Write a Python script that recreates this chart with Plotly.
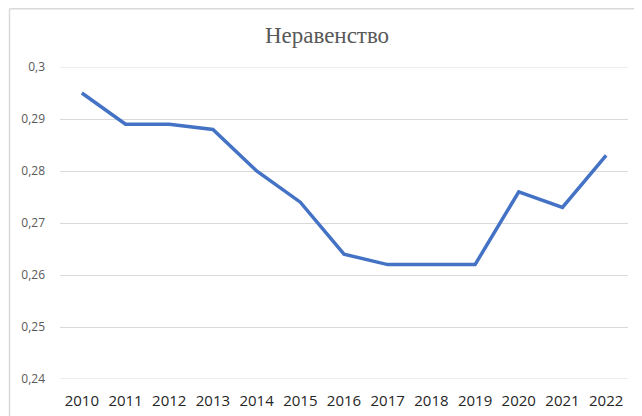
import plotly.graph_objects as go

years = ["2010", "2011", "2012", "2013", "2014", "2015", "2016",
         "2017", "2018", "2019", "2020", "2021", "2022"]
inequality = [0.295, 0.289, 0.289, 0.288, 0.280, 0.274, 0.264,
              0.262, 0.262, 0.262, 0.276, 0.273, 0.283]
y_tick_vals = [0.24, 0.25, 0.26, 0.27, 0.28, 0.29, 0.30]
y_tick_text = ["0,24", "0,25", "0,26", "0,27", "0,28", "0,29", "0,3"]
title_text = "Неравенство"

# page has an 8px body margin; figure coordinates = page coordinates - 8
OFF = 8
W, H = 642 - OFF, 416 - OFF
L, R, T, B = 60 - OFF, 14, 67 - OFF, 37
pw, ph = W - L - R, H - T - B

def px_x(p):
    return (p - L) / pw

def px_y(p):
    return (H - B - p) / ph

fig = go.Figure()
fig.add_trace(go.Scatter(
    x=years, y=inequality, mode="lines",
    line=dict(color="#4472C4", width=3.5),
    hoverinfo="x+y",
))

border = "#d9d9d9"
grid = "#d9d9d9"
shapes = [
    dict(type="line", xref="paper", yref="paper",
         x0=px_x(1.5), x1=px_x(1.5), y0=px_y(H + 2), y1=px_y(0.75),
         line=dict(color=border, width=1.5)),
    dict(type="line", xref="paper", yref="paper",
         x0=px_x(1.5), x1=px_x(W + 2), y0=px_y(0.75), y1=px_y(0.75),
         line=dict(color=border, width=1.5)),
]
# edge gridlines (plotly skips gridlines lying exactly on the plot edges)
for v in (y_tick_vals[0], y_tick_vals[-1]):
    shapes.append(dict(type="line", xref="paper", yref="y", layer="below",
                       x0=0, x1=1, y0=v, y1=v,
                       line=dict(color=grid, width=1)))

fig.update_layout(
    width=W, height=H,
    margin=dict(l=L, r=R, t=T, b=B),
    paper_bgcolor="white", plot_bgcolor="white",
    showlegend=False,
    title=dict(text=title_text, x=(327 - OFF) / W, xanchor="center",
               y=1 - (35 - OFF) / H, yanchor="middle",
               font=dict(family="Liberation Serif", size=23, color="#595959")),
    xaxis=dict(type="category", range=[-0.5, len(years) - 0.5],
               showgrid=False, showline=False, zeroline=False,
               ticks="", ticklabelstandoff=11, automargin=False,
               tickfont=dict(family="Open Sans", size=15, color="#262626")),
    yaxis=dict(range=[0.24, 0.30], tickvals=y_tick_vals, ticktext=y_tick_text,
               showgrid=True, gridcolor=grid, gridwidth=1,
               zeroline=False, showline=False, ticks="",
               ticklabelstandoff=14, automargin=False,
               tickfont=dict(family="Open Sans", size=12, color="#595959")),
    shapes=shapes,
)

fig.write_html("out.html")
